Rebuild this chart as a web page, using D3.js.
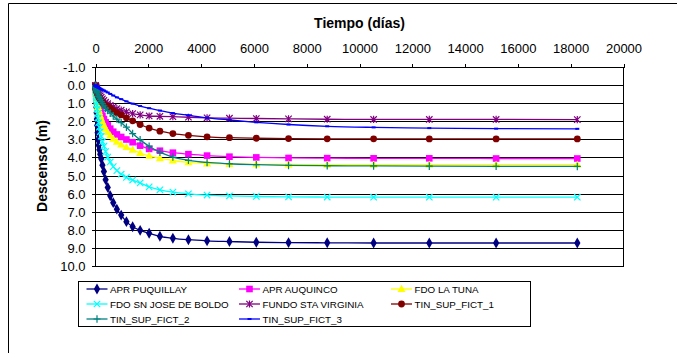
<!DOCTYPE html>
<html><head><meta charset="utf-8">
<script src="https://cdn.jsdelivr.net/npm/d3@7"></script>
<style>
body{margin:0;background:#fff}
svg{display:block}
text{font-family:"Liberation Sans",Arial,sans-serif;fill:#000}
</style>
</head><body>
<svg id="chart" width="677" height="358"></svg>
<script>
// ---- data ----
const timeDays = [0, 2.5, 5.5, 9, 13, 19, 25, 32, 41, 52, 64, 80, 98, 120, 146, 179, 217, 263, 318, 383, 463, 558, 672, 809, 973, 1171, 1407, 1691, 2032, 2440, 2931, 3520, 4226, 5074, 6091, 7312, 8777, 10535, 12644, 15175, 18250];

const seriesNames = ["APR PUQUILLAY", "APR AUQUINCO", "FDO LA TUNA", "FDO SN JOSE DE BOLDO", "FUNDO STA VIRGINIA", "TIN_SUP_FICT_1", "TIN_SUP_FICT_2", "TIN_SUP_FICT_3"];

const aprPuquillay = [0, 0.1, 0.22, 0.36, 0.52, 0.75, 0.95, 1.2, 1.5, 1.85, 2.2, 2.6, 3.0, 3.3, 3.55, 3.8, 4.05, 4.4, 4.75, 5.2, 5.63, 6.09, 6.47, 6.83, 7.16, 7.52, 7.80, 8.0, 8.16, 8.33, 8.44, 8.52, 8.58, 8.62, 8.66, 8.68, 8.69, 8.70, 8.70, 8.70, 8.70];
const aprAuquinco = [0, 0.03, 0.07, 0.12, 0.17, 0.25, 0.32, 0.4, 0.5, 0.6, 0.7, 0.82, 0.95, 1.08, 1.2, 1.35, 1.5, 1.67, 1.85, 2.03, 2.2, 2.38, 2.55, 2.7, 2.84, 2.98, 3.13, 3.32, 3.5, 3.6, 3.71, 3.79, 3.87, 3.93, 3.97, 4.0, 4.01, 4.02, 4.02, 4.03, 4.03];
const fdoLaTuna = [0, 0.04, 0.09, 0.15, 0.22, 0.31, 0.4, 0.5, 0.62, 0.75, 0.88, 1.03, 1.18, 1.33, 1.48, 1.65, 1.82, 2.0, 2.18, 2.38, 2.57, 2.76, 2.94, 3.1, 3.25, 3.4, 3.55, 3.73, 3.88, 4.01, 4.14, 4.24, 4.3, 4.33, 4.35, 4.36, 4.37, 4.37, 4.37, 4.37, 4.37];
const fdoSnJose = [0, 0.06, 0.13, 0.22, 0.32, 0.45, 0.58, 0.72, 0.9, 1.1, 1.3, 1.55, 1.8, 2.05, 2.3, 2.55, 2.8, 3.1, 3.35, 3.65, 3.95, 4.22, 4.48, 4.7, 4.9, 5.08, 5.22, 5.38, 5.6, 5.76, 5.89, 5.98, 6.05, 6.1, 6.13, 6.15, 6.16, 6.17, 6.17, 6.17, 6.17];
const fundoStaVirginia = [0, 0.01, 0.03, 0.05, 0.07, 0.1, 0.13, 0.16, 0.2, 0.24, 0.28, 0.33, 0.38, 0.43, 0.48, 0.56, 0.64, 0.73, 0.82, 0.92, 1.0, 1.1, 1.18, 1.27, 1.35, 1.45, 1.55, 1.62, 1.68, 1.7, 1.72, 1.75, 1.78, 1.8, 1.82, 1.84, 1.86, 1.87, 1.87, 1.87, 1.88];
const tinSupFict1 = [0, 0.02, 0.04, 0.07, 0.1, 0.14, 0.18, 0.23, 0.28, 0.34, 0.4, 0.47, 0.54, 0.61, 0.68, 0.76, 0.84, 0.93, 1.02, 1.12, 1.15, 1.25, 1.38, 1.5, 1.62, 1.78, 1.95, 2.15, 2.35, 2.52, 2.65, 2.75, 2.83, 2.88, 2.91, 2.93, 2.94, 2.94, 2.95, 2.95, 2.95];
const tinSupFict2 = [0, 0.02, 0.04, 0.07, 0.1, 0.14, 0.18, 0.22, 0.27, 0.32, 0.38, 0.45, 0.52, 0.6, 0.68, 0.78, 0.88, 1.0, 1.12, 1.25, 1.38, 1.52, 1.68, 1.85, 2.05, 2.3, 2.65, 3.0, 3.35, 3.68, 3.95, 4.13, 4.25, 4.32, 4.37, 4.41, 4.43, 4.44, 4.45, 4.46, 4.47];
const tinSupFict3 = [0, 0.003, 0.007, 0.012, 0.018, 0.025, 0.03, 0.04, 0.05, 0.06, 0.07, 0.08, 0.1, 0.12, 0.14, 0.17, 0.2, 0.23, 0.27, 0.32, 0.38, 0.46, 0.55, 0.65, 0.75, 0.87, 1.0, 1.13, 1.25, 1.38, 1.52, 1.64, 1.78, 1.9, 2.03, 2.15, 2.25, 2.31, 2.35, 2.38, 2.39];

const xTicks = [0, 2000, 4000, 6000, 8000, 10000, 12000, 14000, 16000, 18000, 20000];
const yTicks = [-1, 0, 1, 2, 3, 4, 5, 6, 7, 8, 9, 10];
const xTitle = "Tiempo (días)";
const yTitle = "Descenso (m)";

// ---- styling ----
const seriesValues = [aprPuquillay, aprAuquinco, fdoLaTuna, fdoSnJose, fundoStaVirginia, tinSupFict1, tinSupFict2, tinSupFict3];
const colors = ["#000080", "#FF00FF", "#FFFF00", "#00FFFF", "#800080", "#800000", "#008080", "#0000FF"];
const markerTypes = ["diamond", "square", "triangle", "x", "asterisk", "circle", "plus", "dash"];

const svg = d3.select("#chart");

// outer frame (only top and left visible)
svg.append("path").attr("d", "M8.5,353 V3.5 H677").attr("fill", "none").attr("stroke", "#000").attr("stroke-width", 1);

const x = d3.scaleLinear().domain([0, 20000]).range([95.5, 623.5]);
const y = d3.scaleLinear().domain([-1, 10]).range([67.5, 266.5]);
const cy = v => Math.round(y(v) - 0.5) + 0.5;

// gridlines
svg.append("g").selectAll("line").data(yTicks).join("line")
  .attr("x1", x(0)).attr("x2", x(20000))
  .attr("y1", d => cy(d)).attr("y2", d => cy(d))
  .attr("stroke", "#000").attr("stroke-width", 1).attr("shape-rendering", "crispEdges");

// plot border
svg.append("rect").attr("x", x(0)).attr("y", cy(-1)).attr("width", x(20000) - x(0)).attr("height", cy(10) - cy(-1))
  .attr("fill", "none").attr("stroke", "#000").attr("stroke-width", 1).attr("shape-rendering", "crispEdges");

// axes
const xAxis = d3.axisTop(x).tickValues(xTicks).tickSize(4).tickSizeOuter(0).tickPadding(11).tickFormat(d => String(d));
const gx = svg.append("g").attr("transform", `translate(0,${cy(-1)})`).call(xAxis);
gx.select(".domain").remove();
gx.selectAll("line").attr("stroke", "#000").attr("shape-rendering", "crispEdges");
gx.selectAll("text").attr("font-size", 13).attr("font-family", '"Liberation Sans",Arial,sans-serif');

const yAxis = d3.axisLeft(y).tickValues(yTicks).tickSize(4).tickSizeOuter(0).tickPadding(6).tickFormat(d => d.toFixed(1));
const gy = svg.append("g").attr("transform", `translate(${x(0)},0)`).call(yAxis);
gy.select(".domain").remove();
gy.selectAll(".tick").attr("transform", d => `translate(0,${cy(d)})`);
gy.selectAll("line").attr("stroke", "#000").attr("shape-rendering", "crispEdges");
gy.selectAll("text").attr("font-size", 13).attr("font-family", '"Liberation Sans",Arial,sans-serif');

// titles
svg.append("text").attr("x", 359.5).attr("y", 28).attr("text-anchor", "middle")
  .attr("font-size", 14).attr("font-weight", "bold").text(xTitle);
svg.append("text").attr("transform", "translate(47,166) rotate(-90)").attr("text-anchor", "middle")
  .attr("font-size", 14).attr("font-weight", "bold").text(yTitle);

// markers
function drawMarker(g, type, color, px, py) {
  if (type === "diamond") {
    g.append("path").attr("d", d3.symbol(d3.symbolDiamond, 34)()).attr("transform", `translate(${px},${py})`).attr("fill", color);
  } else if (type === "square") {
    g.append("rect").attr("x", px - 3.3).attr("y", py - 3.3).attr("width", 6.6).attr("height", 6.6).attr("fill", color);
  } else if (type === "triangle") {
    g.append("path").attr("d", "M0,-4.2L4,3L-4,3Z").attr("transform", `translate(${px},${py})`).attr("fill", color);
  } else if (type === "circle") {
    g.append("circle").attr("cx", px).attr("cy", py).attr("r", 3.4).attr("fill", color);
  } else if (type === "x") {
    g.append("path").attr("d", "M-3.2,-3.2L3.2,3.2M-3.2,3.2L3.2,-3.2").attr("transform", `translate(${px},${py})`)
      .attr("stroke", color).attr("stroke-width", 1.2).attr("fill", "none");
  } else if (type === "asterisk") {
    g.append("path").attr("d", "M-3.2,-3.2L3.2,3.2M-3.2,3.2L3.2,-3.2M0,-3.6V3.6").attr("transform", `translate(${px},${py})`)
      .attr("stroke", color).attr("stroke-width", 1.2).attr("fill", "none");
  } else if (type === "plus") {
    g.append("path").attr("d", "M-3.5,0H3.5M0,-3.8V3.8").attr("transform", `translate(${px},${py})`)
      .attr("stroke", color).attr("stroke-width", 1.2).attr("fill", "none");
  } else if (type === "dash") {
    g.append("rect").attr("x", px - 2).attr("y", py - 1).attr("width", 4).attr("height", 2).attr("fill", color);
  }
}

const line = d3.line().x((d, i) => x(timeDays[i])).y(d => y(d)).curve(d3.curveMonotoneX);

seriesValues.forEach((vals, si) => {
  const g = svg.append("g");
  g.append("path").attr("d", line(vals)).attr("fill", "none").attr("stroke", colors[si]).attr("stroke-width", 1.3);
  vals.forEach((v, i) => drawMarker(g, markerTypes[si], colors[si], x(timeDays[i]), y(v)));
});

// legend
svg.append("rect").attr("x", 78.5).attr("y", 281.5).attr("width", 452).attr("height", 45)
  .attr("fill", "#fff").attr("stroke", "#000").attr("stroke-width", 1);
const colX = [86.5, 239, 391];
const rowY = [289, 304, 319];
seriesNames.forEach((name, i) => {
  const c = i % 3, r = Math.floor(i / 3);
  const g = svg.append("g");
  const lx = colX[c], ly = rowY[r];
  g.append("line").attr("x1", lx).attr("x2", lx + 21).attr("y1", ly).attr("y2", ly)
    .attr("stroke", colors[i]).attr("stroke-width", 1.3);
  drawMarker(g, markerTypes[i], colors[i], lx + 10.5, ly);
  g.append("text").attr("x", lx + 23.5).attr("y", ly + 3.6).attr("font-size", 9.8).text(name);
});
</script>
</body></html>
